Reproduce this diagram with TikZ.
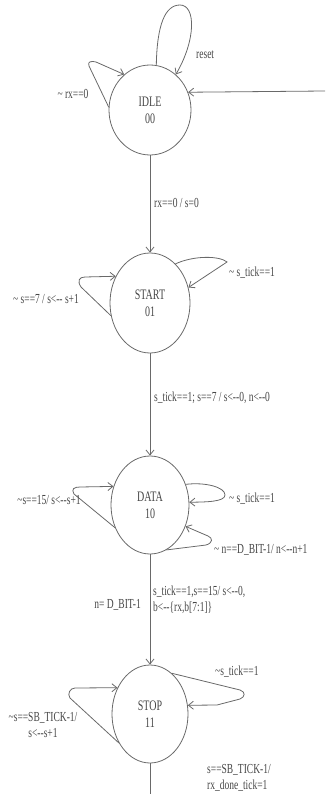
\documentclass[tikz,border=0pt]{standalone}
\usepackage{fontspec}
\setmainfont{Liberation Serif}
\usetikzlibrary{arrows.meta,shapes.geometric}
\newcommand{\vs}[1]{\scalebox{1}[1.45]{#1}}
\definecolor{ln}{RGB}{105,105,105}
\definecolor{tx}{RGB}{70,70,70}
\tikzset{
 state/.style={draw=ln, line width=0.8pt, ellipse, inner sep=0pt, text=tx,
   font=\fontsize{10}{17}\selectfont, align=center},
 conn/.style={draw=ln, line width=0.8pt, -{Straight Barb[length=5pt,width=8pt]}},
 plain/.style={draw=ln, line width=0.8pt},
 lbl/.style={text=tx, font=\fontsize{9.5}{16}\selectfont, inner sep=0pt},
}
\begin{document}
\begin{tikzpicture}[x=1pt,y=-1pt]
\useasboundingbox (0,0) rectangle (325,794);
% states
\node[state, minimum width=82pt, minimum height=90pt] (idle) at (150,110) {\vs{IDLE}\\\vs{00}};
\node[state, minimum width=80pt, minimum height=100pt] (start) at (150,303) {\vs{START}\\\vs{01}};
\node[state, minimum width=78pt, minimum height=98pt] (data) at (150,505) {\vs{DATA}\\\vs{10}};
\node[state, minimum width=76pt, minimum height=98pt] (stop) at (150,714) {\vs{STOP}\\\vs{11}};
% IDLE loops
\draw[conn] (idle.82) .. controls (157,25) and (165,5) .. (180,5) .. controls (196,5) and (196,40) .. (idle.54);
\draw[conn] (idle.176) -- (89,66) .. controls (87,61) and (92,61) .. (96,62) -- (idle.126);
\coordinate (ret) at (325,91);
\draw[conn] (ret) -- (idle.25);
% main chain
\draw[conn] (idle) -- (start);
\draw[conn] (start) -- (data);
\draw[conn] (data) -- (stop);
\coordinate (bot) at (150,794);
\draw[plain] (stop) -- (bot);
% START loops
\draw[conn] (start.57) .. controls (195,255) and (220,256) .. (227,262) -- (start.22);
\draw[conn] (start.198) -- (81,287) .. controls (77,281) and (79,277) .. (85,277) -- (start.142);
% DATA loops
\draw[conn] (data.213) -- (74,494) .. controls (71,489) and (74,487) .. (80,487) -- (data.153);
\draw[conn] (data.30) .. controls (205,482) and (225,487) .. (225,495) .. controls (225,502) and (205,502) .. (data.4);
\draw[conn] (data.290) -- (206,545) .. controls (213,543) and (213,538) .. (208,536) -- (data.329);
% STOP loops
\draw[conn] (stop.62) -- (240,690) .. controls (246,692) and (245,697) .. (240,699) -- (217,705) -- (stop.13);
\draw[conn] (stop.223) -- (70,698) .. controls (67,694) and (70,688) .. (75,688) -- (stop.141);
% labels
\node[lbl, anchor=west] (l_reset) at (196,55) {\vs{reset}};
\node[lbl] (l_rx0) at (73,94) {\vs{\textasciitilde{} rx==0}};
\node[lbl, anchor=west] (l_is) at (154,203) {\vs{rx==0 / s=0}};
\node[lbl, anchor=west] (l_st) at (229,273) {\vs{\textasciitilde{} s\_tick==1}};
\node[lbl] (l_s7) at (46,299) {\vs{\textasciitilde{} s==7 / s<-{}- s+1}};
\node[lbl, anchor=west] (l_sd) at (154,398) {\vs{s\_tick==1; s==7 / s<-{}-0, n<-{}-0}};
\node[lbl] (l_s15) at (49,500) {\vs{\textasciitilde s==15/ s<-{}-s+1}};
\node[lbl, anchor=west] (l_dt) at (229,499) {\vs{\textasciitilde{} s\_tick==1}};
\node[lbl, anchor=west] (l_n) at (214,550) {\vs{\textasciitilde{} n==D\_BIT-1/ n<-{}-n+1}};
\node[lbl, anchor=east] (l_nd) at (141,605) {\vs{n= D\_BIT-1}};
\node[lbl, anchor=west, align=left] (l_ds) at (153,600) {\vs{s\_tick==1,s==15/ s<-{}-0,}\\\vs{b<-{}-\{rx,b[7:1]\}}};
\node[lbl, anchor=west] (l_stk) at (215,672) {\vs{\textasciitilde s\_tick==1}};
\node[lbl, align=center] (l_sb) at (43,725) {\vs{\textasciitilde s==SB\_TICK-1/}\\\vs{s<-{}-s+1}};
\node[lbl, anchor=west, align=left] (l_done) at (207,778) {\vs{s==SB\_TICK-1/}\\\vs{rx\_done\_tick=1}};
\end{tikzpicture}
\end{document}
